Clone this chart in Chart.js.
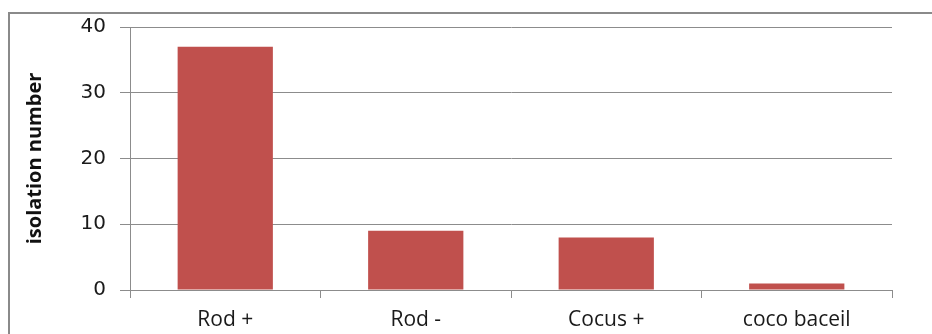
<!DOCTYPE html>
<html lang="en">
<head>
    <meta charset="UTF-8">
    <title>Isolation number</title>
    <script src="https://cdn.jsdelivr.net/npm/chart.js"></script>
    <style>
        html, body {
            margin: 0;
            padding: 0;
            background: #fff;
            overflow: hidden;
        }
        .frame {
            position: absolute;
            left: 8px;
            top: 12px;
            width: 1000px;
            height: 400px;
            border: 2px solid #8a8a8a;
        }
        .chart-box {
            position: absolute;
            left: 0;
            top: 0;
            width: 932px;
            height: 334px;
        }
    </style>
</head>
<body>
    <div class="frame"></div>
    <div class="chart-box">
        <canvas id="isolationChart"></canvas>
    </div>

    <script>
        // Isolates per morphology group
        const categories = ["Rod +", "Rod -", "Cocus +", "coco baceil"];
        const isolationCounts = [37, 9, 8, 1];
        const yTicks = [0, 10, 20, 30, 40];

        const ctx = document.getElementById('isolationChart').getContext('2d');
        new Chart(ctx, {
            type: 'bar',
            data: {
                labels: categories,
                datasets: [{
                    label: 'isolation number',
                    data: isolationCounts,
                    backgroundColor: '#c0504d',
                    borderWidth: 0,
                    categoryPercentage: 1,
                    barPercentage: 0.5
                }]
            },
            options: {
                responsive: true,
                maintainAspectRatio: false,
                animation: false,
                layout: {
                    padding: { left: 0, top: 27, right: 40, bottom: 0 }
                },
                plugins: {
                    legend: { display: false },
                    tooltip: { enabled: false }
                },
                scales: {
                    x: {
                        grid: {
                            drawOnChartArea: false,
                            drawTicks: true,
                            tickLength: 8,
                            color: '#8c8c8c',
                            offset: true
                        },
                        border: { color: '#8c8c8c', width: 1 },
                        ticks: {
                            color: '#1a1a1a',
                            padding: 9,
                            font: { family: 'Open Sans', size: 21 }
                        },
                        afterFit: function(scale) {
                            scale.height = 44;
                        }
                    },
                    y: {
                        min: 0,
                        max: 40,
                        afterBuildTicks: function(scale) {
                            scale.ticks = yTicks.map(v => ({ value: v }));
                        },
                        grid: {
                            color: '#8c8c8c',
                            lineWidth: 1,
                            tickLength: 10
                        },
                        border: { color: '#8c8c8c', width: 1 },
                        ticks: {
                            color: '#1a1a1a',
                            padding: 14,
                            font: { family: 'DejaVu Sans', size: 20 }
                        },
                        title: {
                            display: true,
                            text: 'isolation number',
                            color: '#111',
                            padding: { top: 23, bottom: 0 },
                            font: { family: 'Open Sans', size: 20, weight: 'bold' }
                        },
                        afterFit: function(scale) {
                            scale.width = 130;
                        }
                    }
                }
            }
        });
    </script>
</body>
</html>
